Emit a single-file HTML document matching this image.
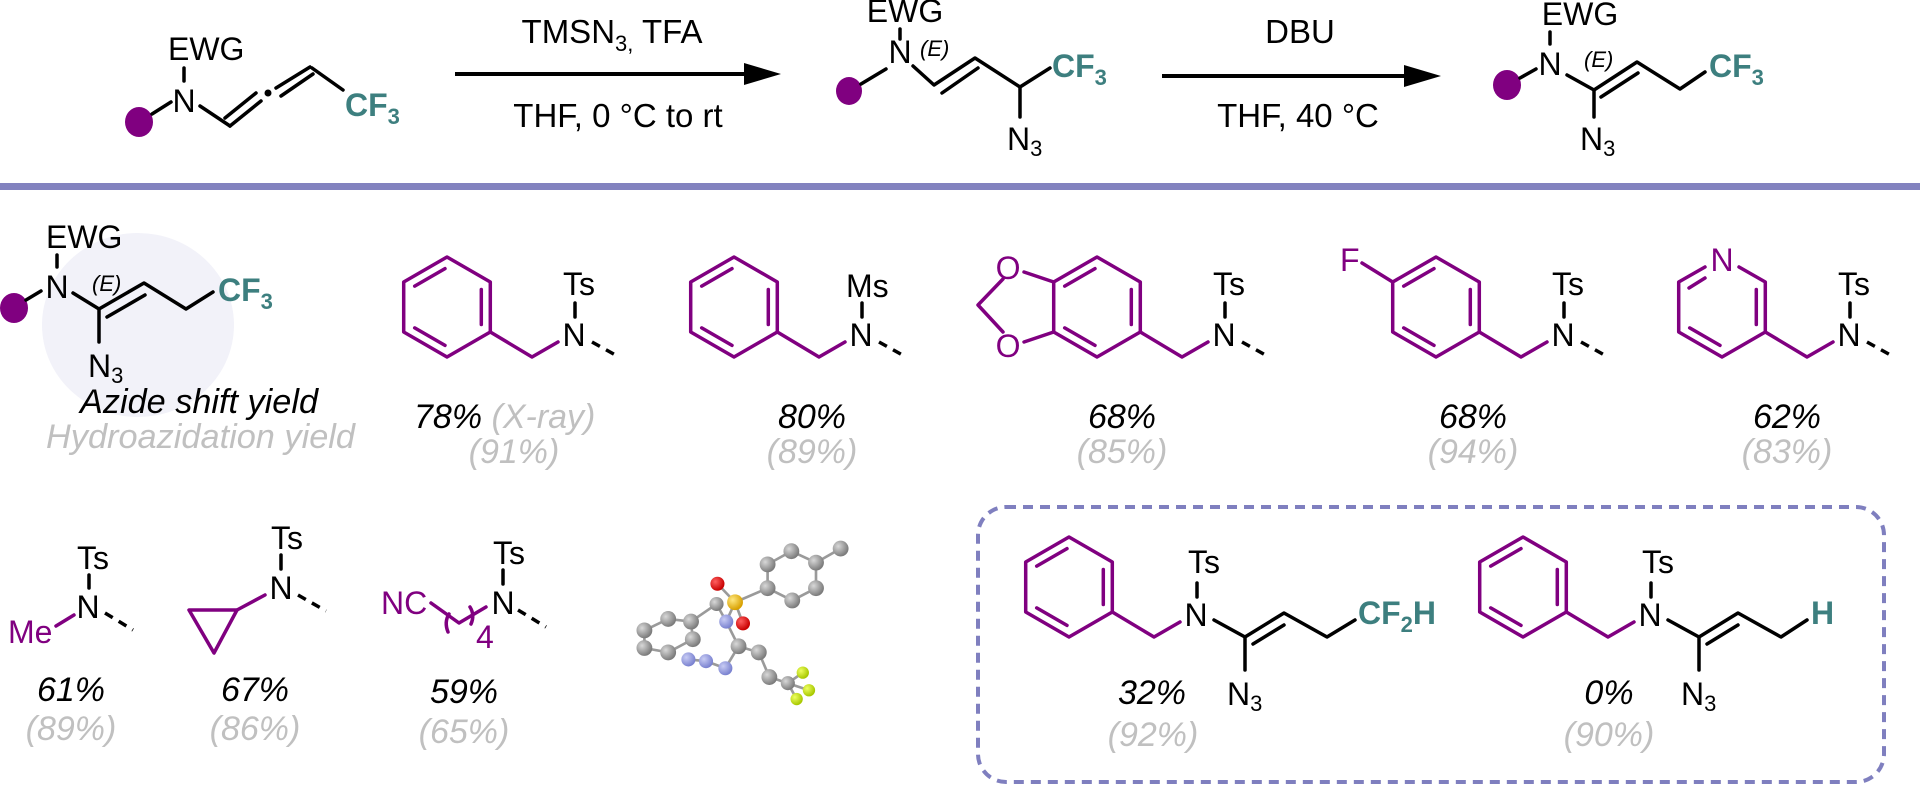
<!DOCTYPE html>
<html><head><meta charset="utf-8">
<style>
html,body{margin:0;padding:0;background:#fff;}
svg{display:block;}
text{font-family:"Liberation Sans",Arial,sans-serif;}
.a{font-size:32px;fill:#000;}
.p{font-size:32px;fill:#800080;}
.t{font-size:32px;fill:#3d7f7f;font-weight:bold;}
.e{font-size:22px;font-style:italic;fill:#000;}
.y{font-size:34px;font-style:italic;fill:#000;}
.g{font-size:34px;font-style:italic;fill:#c0c0c0;}
.r{font-size:33px;fill:#000;}
.k{stroke:#000;stroke-width:3.5;fill:none;stroke-linecap:round;stroke-linejoin:round;}
.m{stroke:#800080;stroke-width:3.5;fill:none;stroke-linecap:round;stroke-linejoin:round;}
.d{stroke:#000;stroke-width:3.5;stroke-dasharray:9 7;fill:none;}
.cb{stroke:#9a9a9a;stroke-width:3;fill:none;}
</style></head><body>
<svg width="1920" height="792" viewBox="0 0 1920 792" xmlns="http://www.w3.org/2000/svg">
<defs>
<radialGradient id="gg" cx="35%" cy="35%" r="65%"><stop offset="0" stop-color="#d8d8d8"/><stop offset="1" stop-color="#7c7c7c"/></radialGradient>
<radialGradient id="gb" cx="35%" cy="35%" r="65%"><stop offset="0" stop-color="#c8ccf4"/><stop offset="1" stop-color="#7a82d0"/></radialGradient>
<radialGradient id="gr" cx="35%" cy="35%" r="65%"><stop offset="0" stop-color="#ff6060"/><stop offset="1" stop-color="#c80000"/></radialGradient>
<radialGradient id="gy" cx="35%" cy="35%" r="65%"><stop offset="0" stop-color="#ffe880"/><stop offset="1" stop-color="#d8a000"/></radialGradient>
<radialGradient id="gl" cx="35%" cy="35%" r="65%"><stop offset="0" stop-color="#eeff60"/><stop offset="1" stop-color="#a8c800"/></radialGradient>
<g id="benz">
<path class="m" d="M0,-50 L43.3,-25 L43.3,25 L0,50 L-43.3,25 L-43.3,-25 Z"/>
<path class="m" d="M-32.3,-20.9 L-2,-38.4 M34.3,-17.5 L34.3,17.5 M-32.3,20.9 L-2,38.4"/>
</g>
<g id="benzN">
<path class="m" d="M43.3,25 L85,50 L111,35"/>
<text class="a" x="127" y="39" text-anchor="middle">N</text>
<line class="k" x1="128" y1="-4" x2="128" y2="10"/>
</g>
</defs>

<!-- ===== TOP REACTION ===== -->
<g transform="translate(0,10)">
<ellipse cx="139" cy="112" rx="14" ry="15" fill="#800080"/>
<line class="k" x1="152" y1="104" x2="171" y2="92"/>
<text class="a" x="168" y="50">EWG</text>
<line class="k" x1="184" y1="58" x2="184" y2="71"/>
<text class="a" x="184" y="102" text-anchor="middle">N</text>
<path class="k" d="M200,96 L230,116"/>
<line class="k" x1="230" y1="116" x2="261" y2="91"/>
<line class="k" x1="225" y1="108" x2="256" y2="83"/>
<circle cx="268" cy="83" r="3.5" fill="#000"/>
<line class="k" x1="276" y1="78" x2="310" y2="57"/>
<line class="k" x1="281" y1="86" x2="313" y2="64"/>
<line class="k" x1="312" y1="58" x2="343" y2="80"/>
<text class="t" x="345" y="106">CF<tspan font-size="22" dy="8">3</tspan></text>
</g>

<line x1="455" y1="74" x2="750" y2="74" stroke="#000" stroke-width="4"/>
<polygon points="781,74 744,63 744,85" fill="#000"/>
<text class="r" x="612" y="43" text-anchor="middle">TMSN<tspan font-size="22" dy="8">3,</tspan><tspan dy="-8"> TFA</tspan></text>
<text class="r" x="618" y="127" text-anchor="middle">THF, 0 °C to rt</text>

<ellipse cx="849" cy="91" rx="13" ry="14" fill="#800080"/>
<line class="k" x1="861" y1="84" x2="886" y2="69"/>
<text class="a" x="905" y="22" text-anchor="middle">EWG</text>
<line class="k" x1="900" y1="29" x2="900" y2="39"/>
<text class="a" x="900" y="63" text-anchor="middle">N</text>
<text class="e" x="920" y="56">(E)</text>
<path class="k" d="M913,66 L934,85 L975,58 L1020,87 L1050,68"/>
<line class="k" x1="942" y1="93" x2="978" y2="68"/>
<line class="k" x1="1020" y1="87" x2="1020" y2="117"/>
<text class="a" x="1007" y="150">N<tspan font-size="22" dy="6">3</tspan></text>
<text class="t" x="1052" y="77">CF<tspan font-size="22" dy="8">3</tspan></text>

<line x1="1162" y1="76" x2="1410" y2="76" stroke="#000" stroke-width="4"/>
<polygon points="1441,76 1404,65 1404,87" fill="#000"/>
<text class="r" x="1300" y="43" text-anchor="middle">DBU</text>
<text class="r" x="1298" y="127" text-anchor="middle">THF, 40 °C</text>

<ellipse cx="1507" cy="85" rx="14" ry="15" fill="#800080"/>
<line class="k" x1="1520" y1="78" x2="1536" y2="69"/>
<text class="a" x="1580" y="25" text-anchor="middle">EWG</text>
<line class="k" x1="1550" y1="32" x2="1550" y2="44"/>
<text class="a" x="1550" y="75" text-anchor="middle">N</text>
<text class="e" x="1584" y="67">(E)</text>
<path class="k" d="M1567,75 L1594,90 L1637,62 L1680,89 L1705,72"/>
<line class="k" x1="1601" y1="97" x2="1638" y2="73"/>
<line class="k" x1="1594" y1="90" x2="1594" y2="117"/>
<text class="a" x="1580" y="150">N<tspan font-size="22" dy="6">3</tspan></text>
<text class="t" x="1709" y="77">CF<tspan font-size="22" dy="8">3</tspan></text>

<rect x="0" y="183" width="1920" height="7" fill="#8282bf"/>

<!-- ===== KEY ===== -->
<ellipse cx="138" cy="325" rx="96" ry="92" fill="#f2f2f9"/>
<ellipse cx="14" cy="308" rx="14" ry="15" fill="#800080"/>
<line class="k" x1="26" y1="300" x2="41" y2="291"/>
<text class="a" x="46" y="248">EWG</text>
<line class="k" x1="57" y1="255" x2="57" y2="267"/>
<text class="a" x="57" y="298" text-anchor="middle">N</text>
<text class="e" x="92" y="291">(E)</text>
<path class="k" d="M73,293 L99,309 L144,283 L186,309 L213,292"/>
<line class="k" x1="107" y1="317" x2="145" y2="295"/>
<line class="k" x1="99" y1="309" x2="99" y2="342"/>
<text class="a" x="88" y="377">N<tspan font-size="22" dy="6">3</tspan></text>
<text class="t" x="218" y="301">CF<tspan font-size="22" dy="8">3</tspan></text>
<text class="y" x="80" y="413" textLength="238" lengthAdjust="spacingAndGlyphs">Azide shift yield</text>
<text class="g" x="46" y="448" textLength="309" lengthAdjust="spacingAndGlyphs">Hydroazidation yield</text>

<!-- ===== ROW 1 ===== -->
<g transform="translate(447,307)">
<use href="#benz"/><use href="#benzN"/>
<text class="a" x="116" y="-12">Ts</text>
<line class="d" x1="145" y1="35" x2="172" y2="50"/>
</g>
<text class="y" x="414" y="428">78% <tspan fill="#c0c0c0">(X-ray)</tspan></text>
<text class="g" x="514" y="463" text-anchor="middle">(91%)</text>

<g transform="translate(734,307)">
<use href="#benz"/><use href="#benzN"/>
<text class="a" x="112" y="-10">Ms</text>
<line class="d" x1="145" y1="35" x2="172" y2="50"/>
</g>
<text class="y" x="812" y="428" text-anchor="middle">80%</text>
<text class="g" x="812" y="463" text-anchor="middle">(89%)</text>

<g transform="translate(1097,307)">
<use href="#benz"/><use href="#benzN"/>
<text class="a" x="116" y="-12">Ts</text>
<line class="d" x1="145" y1="35" x2="172" y2="50"/>
<path class="m" d="M-43.3,-25 L-73,-35 M-94,-28 L-119,-2 L-94,25 M-43.3,25 L-73,35"/>
<text class="p" x="-89" y="-28" text-anchor="middle">O</text>
<text class="p" x="-89" y="50" text-anchor="middle">O</text>
</g>
<text class="y" x="1122" y="428" text-anchor="middle">68%</text>
<text class="g" x="1122" y="463" text-anchor="middle">(85%)</text>

<g transform="translate(1436,307)">
<use href="#benz"/><use href="#benzN"/>
<text class="a" x="116" y="-12">Ts</text>
<line class="d" x1="145" y1="35" x2="172" y2="50"/>
<line class="m" x1="-43.3" y1="-25" x2="-74" y2="-44"/>
<text class="p" x="-96" y="-36">F</text>
</g>
<text class="y" x="1473" y="428" text-anchor="middle">68%</text>
<text class="g" x="1473" y="463" text-anchor="middle">(94%)</text>

<g transform="translate(1722,307)">
<path class="m" d="M-17,-40 L-43.3,-25 L-43.3,25 L0,50 L43.3,25 L43.3,-25 L17,-40"/>
<path class="m" d="M-33,-19 L-17,-29 M34.3,-17.5 L34.3,17.5 M-32.3,20.9 L-2,38.4"/>
<text class="p" x="0" y="-36" text-anchor="middle">N</text>
<use href="#benzN"/>
<text class="a" x="116" y="-12">Ts</text>
<line class="d" x1="145" y1="35" x2="172" y2="50"/>
</g>
<text class="y" x="1787" y="428" text-anchor="middle">62%</text>
<text class="g" x="1787" y="463" text-anchor="middle">(83%)</text>

<!-- ===== ROW 2 ===== -->
<text class="a" x="77" y="569">Ts</text>
<line class="k" x1="89" y1="575" x2="89" y2="588"/>
<text class="a" x="88" y="618" text-anchor="middle">N</text>
<line class="m" x1="56" y1="626" x2="74" y2="615"/>
<text class="p" x="8" y="643">Me</text>
<line class="d" x1="105" y1="613" x2="133" y2="630"/>
<text class="y" x="71" y="701" text-anchor="middle">61%</text>
<text class="g" x="71" y="740" text-anchor="middle">(89%)</text>

<text class="a" x="271" y="549">Ts</text>
<line class="k" x1="281" y1="555" x2="281" y2="569"/>
<text class="a" x="281" y="599" text-anchor="middle">N</text>
<line class="m" x1="265" y1="595" x2="237" y2="610"/>
<path class="m" d="M189,610 L237,610 L214,653 Z"/>
<line class="d" x1="298" y1="595" x2="326" y2="611"/>
<text class="y" x="255" y="701" text-anchor="middle">67%</text>
<text class="g" x="255" y="740" text-anchor="middle">(86%)</text>

<text class="a" x="493" y="564">Ts</text>
<line class="k" x1="503" y1="570" x2="503" y2="584"/>
<text class="a" x="503" y="614" text-anchor="middle">N</text>
<text class="p" x="381" y="614">NC</text>
<path class="m" d="M431,603 L459,623 L486,607"/>
<path class="m" d="M449,614 Q444,622 448,632 M470,607 Q475,615 471,624"/>
<text class="p" x="476" y="648" font-size="22">4</text>
<line class="d" x1="518" y1="610" x2="546" y2="627"/>
<text class="y" x="464" y="703" text-anchor="middle">59%</text>
<text class="g" x="464" y="743" text-anchor="middle">(65%)</text>

<!-- crystal structure -->
<g transform="translate(640,560) scale(0.88) translate(-640,-560)">
<path class="cb" d="M645,640 L672,627 L698,630 L700,650 L672,665 L645,660 Z M698,630 L727,610 L738,630 L748,608 L728,587 M748,608 L757,632 M748,608 L785,592 L785,565 L812,550 L840,563 L840,592 L813,606 L785,592 M840,563 L868,547 M738,630 L752,658 L775,665 L787,693 L808,700 L825,688 M808,700 L832,708 M808,700 L818,718 M752,658 L737,683 L715,675 L695,673"/>
<g fill="url(#gg)">
<circle cx="645" cy="640" r="9"/><circle cx="672" cy="627" r="9"/><circle cx="698" cy="630" r="9"/>
<circle cx="700" cy="650" r="9"/><circle cx="672" cy="665" r="9"/><circle cx="645" cy="660" r="9"/>
<circle cx="727" cy="610" r="8"/>
<circle cx="785" cy="592" r="9"/><circle cx="785" cy="565" r="9"/><circle cx="812" cy="550" r="9"/>
<circle cx="840" cy="563" r="9"/><circle cx="840" cy="592" r="9"/><circle cx="813" cy="606" r="9"/>
<circle cx="868" cy="547" r="9"/>
<circle cx="752" cy="658" r="9"/><circle cx="775" cy="665" r="9"/><circle cx="787" cy="693" r="9"/>
<circle cx="808" cy="700" r="8"/>
</g>
<g fill="url(#gb)">
<circle cx="738" cy="630" r="8"/><circle cx="737" cy="683" r="8"/><circle cx="715" cy="675" r="8"/><circle cx="695" cy="673" r="8"/>
</g>
<circle cx="728" cy="587" r="8" fill="url(#gr)"/><circle cx="757" cy="632" r="8" fill="url(#gr)"/>
<circle cx="748" cy="608" r="9" fill="url(#gy)"/>
<g fill="url(#gl)"><circle cx="825" cy="688" r="7"/><circle cx="832" cy="708" r="7"/><circle cx="818" cy="718" r="7"/></g>
</g>

<rect x="978" y="507" width="906" height="275" rx="28" ry="28" fill="none" stroke="#7f7fbf" stroke-width="4" stroke-dasharray="10 7"/>

<g transform="translate(1069,587)">
<use href="#benz"/><use href="#benzN"/>
<text class="a" x="119" y="-14">Ts</text>
<path class="k" d="M145,33 L176,50 L215,26 L258,50 L286,33"/>
<line class="k" x1="184" y1="57" x2="215" y2="38"/>
<line class="k" x1="176" y1="50" x2="176" y2="83"/>
<text class="a" x="158" y="118">N<tspan font-size="22" dy="6">3</tspan></text>
<text class="t" x="289" y="37">CF<tspan font-size="22" dy="8">2</tspan><tspan dy="-8">H</tspan></text>
</g>
<text class="y" x="1152" y="704" text-anchor="middle">32%</text>
<text class="g" x="1153" y="746" text-anchor="middle">(92%)</text>

<g transform="translate(1523,587)">
<use href="#benz"/><use href="#benzN"/>
<text class="a" x="119" y="-14">Ts</text>
<path class="k" d="M145,33 L176,50 L215,26 L258,50 L284,33"/>
<line class="k" x1="184" y1="57" x2="215" y2="38"/>
<line class="k" x1="176" y1="50" x2="176" y2="83"/>
<text class="a" x="158" y="118">N<tspan font-size="22" dy="6">3</tspan></text>
<text class="t" x="288" y="37">H</text>
</g>
<text class="y" x="1609" y="704" text-anchor="middle">0%</text>
<text class="g" x="1609" y="746" text-anchor="middle">(90%)</text>
</svg>
</body></html>
